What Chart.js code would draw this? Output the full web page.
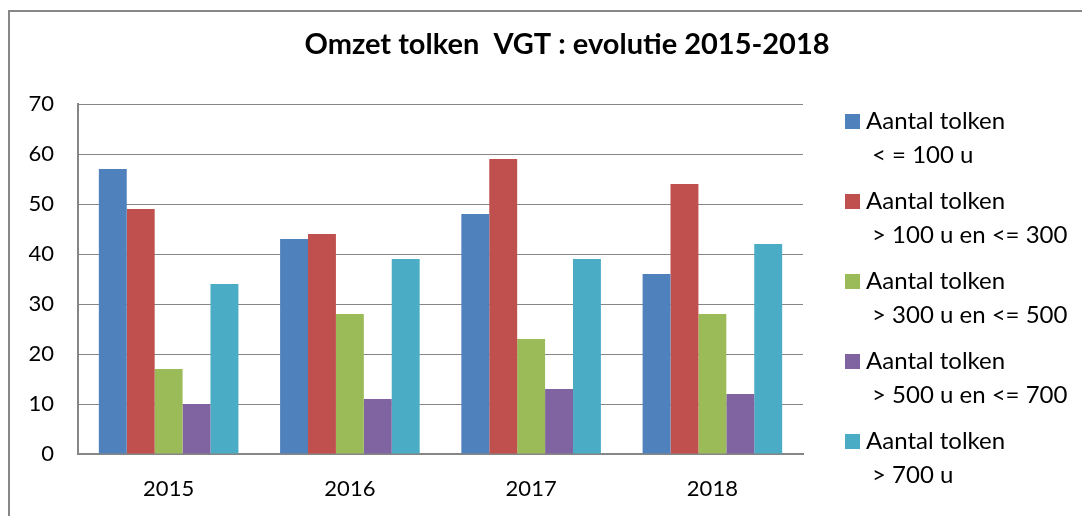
<!DOCTYPE html>
<html>
<head>
<meta charset="utf-8">
<script src="https://cdn.jsdelivr.net/npm/chart.js@4"></script>
<style>
  html, body { margin: 0; padding: 0; background: #fff; }
  #wrap { position: relative; width: 1082px; height: 516px; }
</style>
</head>
<body>
<div id="wrap"><canvas id="chart"></canvas></div>
<script>
const years = ['2015', '2016', '2017', '2018'];
const seriesLabels = [
  ['Aantal tolken', '< = 100 u'],
  ['Aantal tolken', '> 100 u en <= 300'],
  ['Aantal tolken', '> 300 u en <= 500'],
  ['Aantal tolken', '> 500 u en <= 700'],
  ['Aantal tolken', '> 700 u'],
];
const upTo100 = [57, 43, 48, 36];
const from100to300 = [49, 44, 59, 54];
const from300to500 = [17, 28, 23, 28];
const from500to700 = [10, 11, 13, 12];
const over700 = [34, 39, 39, 42];
const colors = ['#4F81BD', '#C0504D', '#9BBB59', '#8064A2', '#4BACC6'];
const titleText = 'Omzet tolken  VGT : evolutie 2015-2018';

const FONT = 'Lato, "Open Sans", sans-serif';
const GRID = '#868686';

const values = [upTo100, from100to300, from300to500, from500to700, over700];

// frame, title and the two-line legend
const decor = {
  id: 'decor',
  beforeDraw(chart) {
    const ctx = chart.ctx;
    ctx.save();
    ctx.fillStyle = '#fff';
    ctx.fillRect(0, 0, chart.width, chart.height);
    ctx.strokeStyle = '#878787';
    ctx.lineWidth = 2;
    ctx.strokeRect(9, 11, chart.width + 20, chart.height + 20);
    ctx.restore();
  },
  afterDraw(chart) {
    const ctx = chart.ctx;
    ctx.save();
    ctx.fillStyle = '#000';
    ctx.textBaseline = 'middle';
    ctx.textAlign = 'center';
    ctx.font = 'bold 29px ' + FONT;
    ctx.fillText(titleText, 567, 45);

    ctx.textAlign = 'left';
    ctx.font = '24px ' + FONT;
    chart.data.datasets.forEach((ds, i) => {
      const y = 121 + i * 80;
      ctx.fillStyle = ds.backgroundColor;
      ctx.fillRect(845, y - 7, 15, 15);
      ctx.fillStyle = '#000';
      ctx.fillText(ds.label[0], 866, y);
      ctx.fillText(ds.label[1], 872, y + 34);
    });
    ctx.restore();
  }
};

new Chart(document.getElementById('chart'), {
  type: 'bar',
  data: {
    labels: years,
    datasets: values.map((data, i) => ({
      label: seriesLabels[i],
      data,
      backgroundColor: colors[i],
      borderWidth: 0,
    })),
  },
  plugins: [decor],
  options: {
    responsive: true,
    maintainAspectRatio: false,
    animation: false,
    devicePixelRatio: 1,
    datasets: { bar: { categoryPercentage: 0.77, barPercentage: 1 } },
    layout: { padding: { left: 10, right: 279, top: 104, bottom: 0 } },
    scales: {
      x: {
        grid: { display: false, drawTicks: false },
        border: { color: GRID, width: 2 },
        ticks: { color: '#000', font: { family: FONT, size: 22 }, padding: 22 },
        afterFit(scale) { scale.height = 62; },
      },
      y: {
        min: 0,
        max: 70,
        ticks: { stepSize: 10, color: '#000', font: { family: FONT, size: 22 }, padding: 24 },
        grid: { color: GRID, lineWidth: 1, drawTicks: false },
        border: { color: GRID, width: 2 },
        afterFit(scale) { scale.width = 68; },
      },
    },
    plugins: {
      legend: { display: false },
      title: { display: false },
      tooltip: { enabled: false },
    },
  },
});
</script>
</body>
</html>
